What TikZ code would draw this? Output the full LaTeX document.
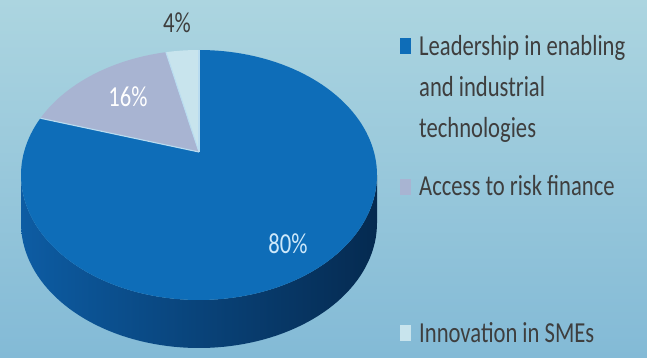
\documentclass[tikz,border=0pt]{standalone}
\usepackage{fontspec}
\setmainfont{Carlito}[FakeStretch=0.78]
\definecolor{bgtop}{RGB}{172,213,224}
\definecolor{bgbot}{RGB}{131,186,214}
\definecolor{mainblue}{RGB}{14,109,184}
\definecolor{sliceB}{RGB}{168,180,210}
\definecolor{sliceC}{RGB}{200,228,237}
\definecolor{sideL}{RGB}{13,92,163}
\definecolor{sideM}{RGB}{9,68,122}
\definecolor{sideR}{RGB}{5,42,80}
\definecolor{sepline}{RGB}{185,220,240}
\definecolor{txtgrey}{RGB}{62,62,62}
\definecolor{lab80}{RGB}{205,232,250}
\tikzset{
  legtext/.style={anchor=base west,inner sep=0pt,text=txtgrey,font=\fontsize{29}{41}\selectfont},
  pctlabel/.style={anchor=base,inner sep=0pt,font=\fontsize{29}{35}\selectfont},
  legbox/.style={inner sep=0pt,minimum width=11pt,minimum height=16pt,anchor=north west},
  sep/.style={draw=sepline,line width=1.1pt}
}
\begin{document}
\begin{tikzpicture}[x=1pt,y=-1pt]
\useasboundingbox (0,0) rectangle (647,358);
\shade[top color=bgtop,bottom color=bgbot] (0,0) rectangle (647,358);
% side of the pie
\shade[left color=sideL,middle color=sideM,right color=sideR]
  plot[domain=180:360,samples=80] ({199+178*cos(\x)},{175-125*sin(\x)})
  -- plot[domain=180:360,samples=80] ({199+178*cos(540-\x)},{223-125*sin(540-\x)}) -- cycle;
% top surface
\coordinate (apex) at (199,152);
\fill[mainblue] (apex) -- plot[domain=-207:90,samples=150] ({199+178*cos(\x)},{175-125*sin(\x)}) -- cycle;
\fill[sliceB] (apex) -- plot[domain=100.7:153,samples=40] ({199+178*cos(\x)},{175-125*sin(\x)}) -- cycle;
\fill[sliceC] (apex) -- plot[domain=90:100.7,samples=10] ({199+178*cos(\x)},{175-125*sin(\x)}) -- cycle;
\coordinate (e90) at (199,50);
\coordinate (e100) at ({199+178*cos(100.7)},{175-125*sin(100.7)});
\coordinate (e153) at ({199+178*cos(153)},{175-125*sin(153)});
\draw[sep] (apex) -- (e153);
\draw[sep] (apex) -- (e100);
\draw[sep] (apex) -- (e90);
% percentage labels
\node[pctlabel,text=txtgrey] (p4) at (177,33) {4\%};
\node[pctlabel,text=white] (p16) at (128,107) {16\%};
\node[pctlabel,text=lab80] (p80) at (288,253) {80\%};
% legend
\node[legbox,fill=mainblue] (k1) at (400,38) {};
\node[legbox,fill=sliceB] (k2) at (400,179) {};
\node[legbox,fill=sliceC] (k3) at (400,325) {};
\node[legtext] (l1a) at (419,56) {Leadership in enabling};
\node[legtext] (l1b) at (419,97) {and industrial};
\node[legtext] (l1c) at (419,138) {technologies};
\node[legtext] (l2) at (419,195) {Access to risk finance};
\node[legtext] (l3) at (419,342) {Innovation in SMEs};
\end{tikzpicture}
\end{document}
